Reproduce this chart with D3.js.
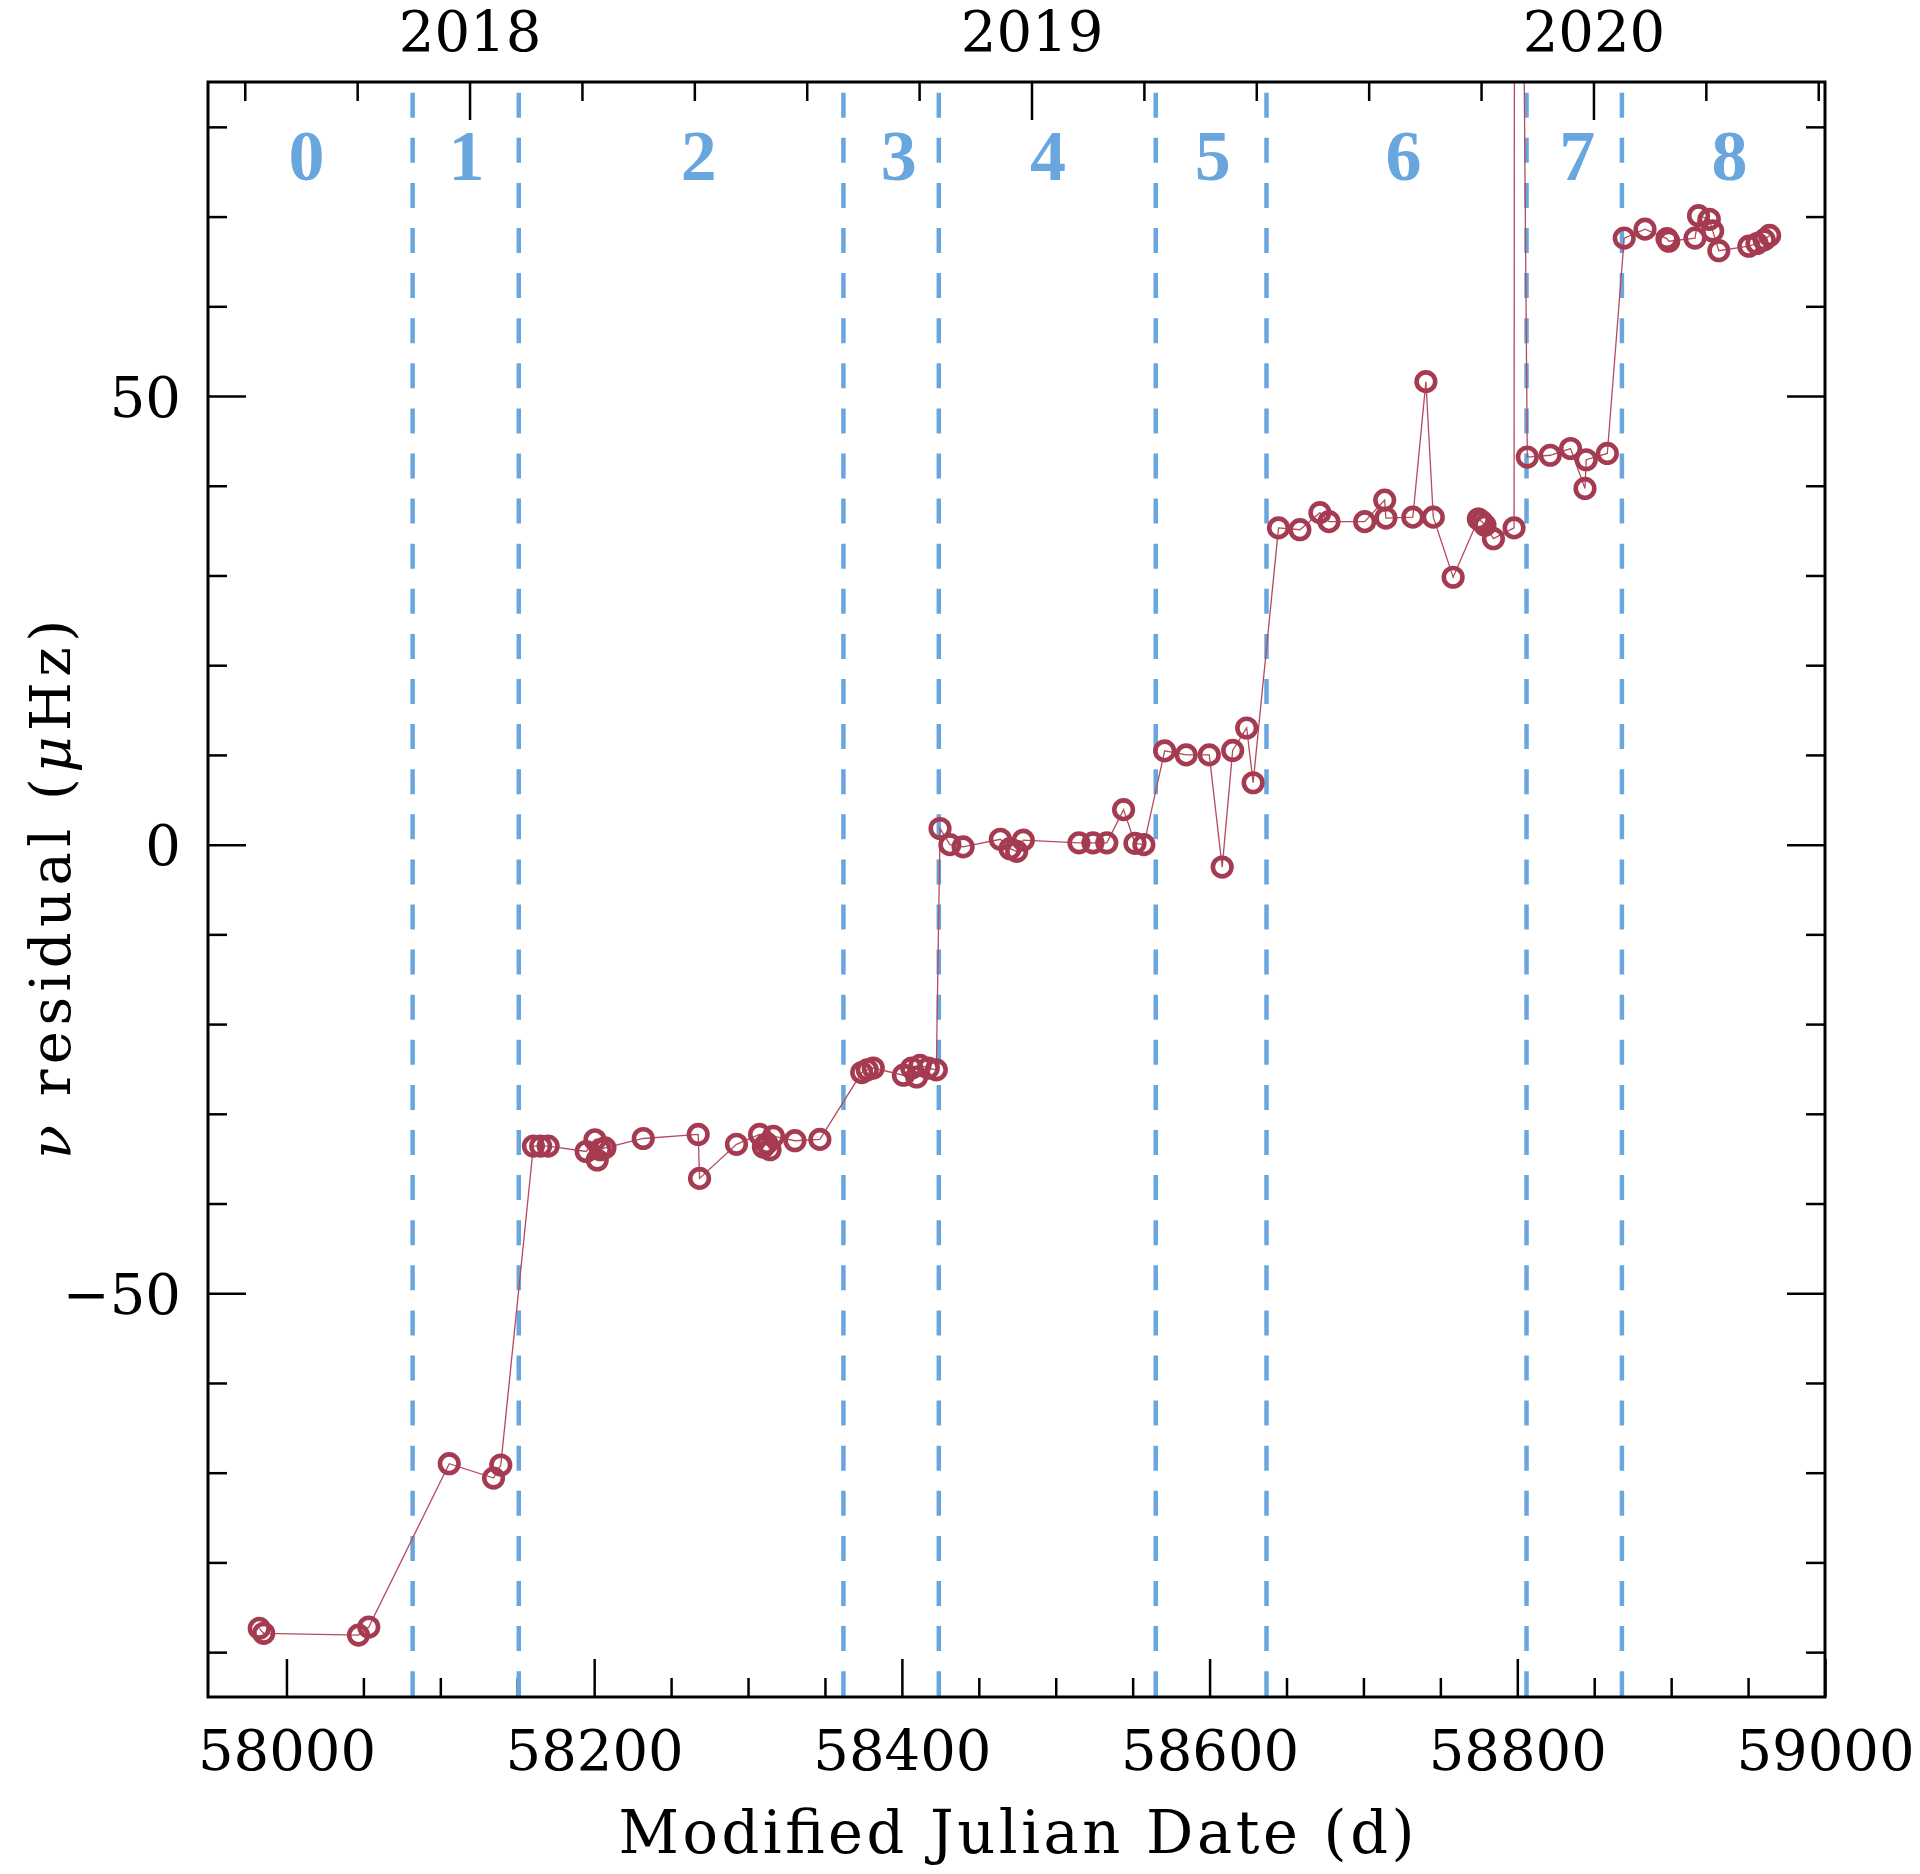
<!DOCTYPE html>
<html>
<head>
<meta charset="utf-8">
<script src="https://cdn.jsdelivr.net/npm/d3@7"></script>
<style>
  body { margin: 0; background: #fff; }
  #chart { width: 1920px; height: 1874px; }
  .tick text { font-family: "DejaVu Serif", serif; font-size: 56px; fill: #000; }
  .tick line { stroke: #000; stroke-width: 2.5; }
</style>
</head>
<body>
<div id="chart"></div>
<script>
// MJD of each timing point, and the frequency residual in microHz
const mjd = [
  57982.3, 57985.2, 58046.8, 58053.5,
  58105.8, 58134.6, 58139.3,
  58160.5, 58165.2, 58170.1, 58194.8, 58200.5, 58202.0, 58204.0, 58207.0, 58231.9,
  58267.6, 58268.5, 58292.5, 58307.5, 58310.0, 58312.2, 58314.3, 58316.5, 58330.5, 58346.7,
  58373.9, 58377.5, 58381.4, 58401.0, 58406.4, 58409.6, 58411.8, 58417.2, 58422.4,
  58424.8, 58431.2, 58439.8, 58464.0, 58470.3, 58474.6, 58478.9, 58515.1, 58524.2,
  58533.2, 58544.1, 58551.5, 58557.3,
  58570.8, 58584.8, 58599.8, 58608.2, 58615.0, 58624.1, 58628.3,
  58644.8, 58658.7, 58671.7, 58677.6, 58700.8, 58713.8, 58714.6, 58732.1, 58740.6,
  58745.4, 58758.3, 58774.7, 58777.0, 58779.0, 58784.5, 58797.9, 58798.6,
  58806.5, 58821.4, 58834.6, 58844.0, 58844.8, 58858.5,
  58869.5, 58883.0, 58897.3, 58898.4, 58915.5, 58917.8, 58924.8, 58927.0, 58931.0,
  58950.5, 58955.8, 58960.5, 58964.0
]
const resid = [
  -87.35, -87.9, -88.1, -87.2,
  -69.0, -70.6, -69.15,
  -33.6, -33.6, -33.6, -34.2, -32.9, -35.15, -34.0, -33.8, -32.75,
  -32.3, -37.2, -33.4, -32.3, -33.7, -33.3, -34.0, -32.5, -33.0, -32.85,
  -25.4, -25.1, -24.9, -25.7, -24.9, -25.9, -24.6, -24.9, -25.1,
  1.8, 0.0, -0.25, 0.6, -0.45, -0.75, 0.5, 0.2, 0.2,
  0.2, 3.9, 0.15, 0.0,
  10.45, 10.0, 10.0, -2.5, 10.5, 13.0, 6.9,
  35.3, 35.1, 37.0, 36.0, 36.0, 38.4, 36.4, 36.5, 51.6,
  36.5, 29.8, 36.3, 36.0, 35.6, 34.1, 35.3, 210,
  43.2, 43.4, 44.15, 39.7, 42.9, 43.6,
  67.6, 68.6, 67.55, 67.25, 67.6, 70.1, 69.7, 68.4, 66.2,
  66.7, 67.0, 67.4, 67.9
]

// segment boundaries (dashed) and the segment numbers
const boundaries = [58082, 58151, 58362, 58424, 58565, 58637, 58806, 58868]
const segLabels = ['0', '1', '2', '3', '4', '5', '6', '7', '8']
const segLabelMjd = [58013, 58117, 58268, 58398, 58495, 58602, 58726, 58839, 58938]

const mjdTicks = [58000, 58200, 58400, 58600, 58800, 59000]
const residTicks = [-50, 0, 50]
const yearLabels = [2018, 2019, 2020]

const margin = {left: 208, right: 1825, top: 82, bottom: 1697}
const red = '#a53b50'
const blue = '#6aa6de'

const svg = d3.select('#chart').append('svg')
    .attr('width', 1920)
    .attr('height', 1874)

svg.append('rect').attr('width', 1920).attr('height', 1874).attr('fill', '#fff')

const x = d3.scaleLinear().domain([57949, 59000]).range([margin.left, margin.right])
const y = d3.scaleLinear().domain([-95, 85]).range([margin.bottom, margin.top])

// decimal year for the top axis
const toYear = d => 2018 + (d - 58119) / 365.25
const xYear = d3.scaleLinear().domain(x.domain().map(toYear)).range(x.range())

const minorX = d3.range(58050, 59000, 50).filter(d => mjdTicks.indexOf(d) < 0)
const minorY = d3.range(-90, 81, 10).filter(d => residTicks.indexOf(d) < 0)
const minorYear = d3.range(-2, 13).map(i => 2018 + i * 0.2)
    .filter(d => Math.abs(d - Math.round(d)) > 1e-6)

const addAxis = (axis, tx, ty) => {
    const g = svg.append('g')
        .attr('transform', `translate(${tx},${ty})`)
        .call(axis)
    g.select('.domain').remove()
    return g
}

// bottom
addAxis(d3.axisBottom(x).tickValues(minorX).tickSize(-19).tickFormat(''), 0, margin.bottom)
addAxis(d3.axisBottom(x).tickValues(mjdTicks).tickSize(-38).tickPadding(33).tickFormat(d3.format('d')), 0, margin.bottom)
// top (years)
addAxis(d3.axisTop(xYear).tickValues(minorYear).tickSize(-19).tickFormat(''), 0, margin.top)
addAxis(d3.axisTop(xYear).tickValues(yearLabels).tickSize(-38).tickPadding(31).tickFormat(d3.format('d')), 0, margin.top)
// left
addAxis(d3.axisLeft(y).tickValues(minorY).tickSize(-19).tickFormat(''), margin.left, 0)
const yAxisG = addAxis(d3.axisLeft(y).tickValues(residTicks).tickSize(-38).tickPadding(27)
    .tickFormat(d => d < 0 ? '\u2212' + Math.abs(d) : d), margin.left, 0)
yAxisG.selectAll('text').attr('dy', '0.36em')
// right
addAxis(d3.axisRight(y).tickValues(minorY).tickSize(-19).tickFormat(''), margin.right, 0)
addAxis(d3.axisRight(y).tickValues(residTicks).tickSize(-38).tickFormat(''), margin.right, 0)

svg.selectAll('.tick text').attr('fill', '#000')

svg.append('clipPath').attr('id', 'plot-clip')
    .append('rect')
    .attr('x', margin.left).attr('y', margin.top)
    .attr('width', margin.right - margin.left)
    .attr('height', margin.bottom - margin.top)

// segment boundaries
svg.append('g').selectAll('line').data(boundaries)
    .enter()
    .append('line')
    .attr('x1', d => x(d))
    .attr('x2', d => x(d))
    .attr('y1', margin.top)
    .attr('y2', margin.bottom)
    .attr('stroke', blue)
    .attr('stroke-width', 4.5)
    .attr('stroke-dasharray', '25,20.1')
    .attr('stroke-dashoffset', -10.7)

svg.append('g').selectAll('text').data(segLabels)
    .enter()
    .append('text')
    .attr('x', (d, i) => x(segLabelMjd[i]))
    .attr('y', 180)
    .attr('text-anchor', 'middle')
    .attr('font-family', '"Liberation Serif", serif')
    .attr('font-weight', 'bold')
    .attr('font-size', 72)
    .attr('fill', blue)
    .text(d => d)

const points = mjd.map((d, i) => ({mjd: d, resid: resid[i]}))

const dataG = svg.append('g').attr('clip-path', 'url(#plot-clip)')

dataG.append('path')
    .datum(points)
    .attr('fill', 'none')
    .attr('stroke', '#b44a5f')
    .attr('stroke-width', 1.3)
    .attr('d', d3.line().x(d => x(d.mjd)).y(d => y(d.resid)))

dataG.selectAll('circle').data(points)
    .enter()
    .append('circle')
    .attr('cx', d => x(d.mjd))
    .attr('cy', d => y(d.resid))
    .attr('r', 9.3)
    .attr('fill', 'none')
    .attr('stroke', red)
    .attr('stroke-width', 4.6)

// frame
svg.append('rect')
    .attr('x', margin.left).attr('y', margin.top)
    .attr('width', margin.right - margin.left)
    .attr('height', margin.bottom - margin.top)
    .attr('fill', 'none')
    .attr('stroke', '#000')
    .attr('stroke-width', 3)

svg.append('text')
    .attr('x', (margin.left + margin.right) / 2)
    .attr('y', 1853)
    .attr('text-anchor', 'middle')
    .attr('font-family', '"DejaVu Serif", serif')
    .attr('font-size', 59)
    .attr('textLength', 796)
    .attr('lengthAdjust', 'spacing')
    .text('Modified Julian Date (d)')

const yTitle = svg.append('text')
    .attr('transform', `translate(70,${(margin.top + margin.bottom) / 2}) rotate(-90)`)
    .attr('text-anchor', 'middle')
    .attr('font-family', '"DejaVu Serif", serif')
    .attr('font-size', 56)
    .attr('textLength', 539)
    .attr('lengthAdjust', 'spacing')
yTitle.append('tspan').attr('font-style', 'italic').text('\u03bd')
yTitle.append('tspan').text(' residual (')
yTitle.append('tspan').attr('font-style', 'italic').text('\u03bc')
yTitle.append('tspan').text('Hz)')
</script>
</body>
</html>
